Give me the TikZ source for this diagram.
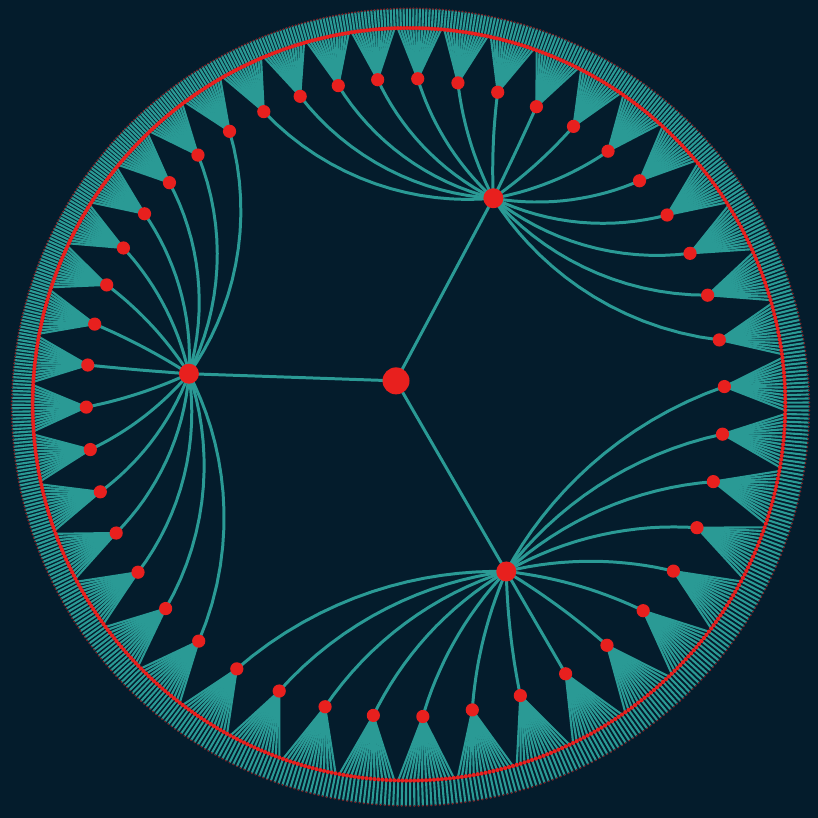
\documentclass[tikz,border=0pt]{standalone}
\usepackage{xcolor}
\usepackage{tikz}
\definecolor{DeepNavy}{HTML}{041C2C}
\definecolor{TreeTeal}{HTML}{2A9A95}
\definecolor{NodeRed}{HTML}{E8201E}

% disk shift z -> (z+b)/(1+conj(b)z), result in \mobX, \mobY
\newcommand\mobius[4]{%
  \pgfmathsetmacro\mNx{(#3)+(#1)}%
  \pgfmathsetmacro\mNy{(#4)+(#2)}%
  \pgfmathsetmacro\mDx{1+(#1)*(#3)+(#2)*(#4)}%
  \pgfmathsetmacro\mDy{(#1)*(#4)-(#2)*(#3)}%
  \pgfmathsetmacro\mDD{(\mDx)*(\mDx)+(\mDy)*(\mDy)}%
  \pgfmathsetmacro\mobX{((\mNx)*(\mDx)+(\mNy)*(\mDy))/(\mDD)}%
  \pgfmathsetmacro\mobY{((\mNy)*(\mDx)-(\mNx)*(\mDy))/(\mDD)}%
  \global\let\mobX\mobX\global\let\mobY\mobY}
\def\shiftx{-0.037}
\def\shifty{0.067}

\begin{document}
\begin{tikzpicture}[x=4.05cm, y=4.05cm,
    edge/.style={TreeTeal, line width=0.85pt},
    fan/.style={TreeTeal, line width=0.6pt}]
  \fill[DeepNavy] (-4.11cm,-4.10cm) rectangle (4.07cm,4.08cm);

  % root
  \mobius{\shiftx}{\shifty}{0}{0}
  \coordinate (root) at (\mobX,\mobY);

  % three branches
  \foreach \cn in {0,1,2}{
    \pgfmathsetmacro\tc{60+120*\cn}
    \mobius{\shiftx}{\shifty}{0.525*cos(\tc)}{0.525*sin(\tc)}
    \coordinate (c\cn) at (\mobX,\mobY);
    \let\cX\mobX \let\cY\mobY
    \pgfmathsetmacro\ncX{0-(\cX)}
    \pgfmathsetmacro\ncY{0-(\cY)}
    \foreach \gn in {0,...,14}{
      \pgfmathsetmacro\tg{\tc+8*(\gn-7)}
      \mobius{\shiftx}{\shifty}{0.79*cos(\tg)}{0.79*sin(\tg)}
      \coordinate (g\cn-\gn) at (\mobX,\mobY);
      \let\gX\mobX \let\gY\mobY
      % leaves
      \foreach \fn in {0,...,14}{
        \pgfmathsetmacro\tf{\tg+8/15*(\fn-7)}
        \mobius{\shiftx}{\shifty}{0.93*cos(\tf)}{0.93*sin(\tf)}
        \coordinate (f\cn-\gn-\fn) at (\mobX,\mobY);
        \mobius{\shiftx}{\shifty}{0.985*cos(\tf)}{0.985*sin(\tf)}
        \coordinate (e\cn-\gn-\fn) at (\mobX,\mobY);
        \draw[fan] (g\cn-\gn) -- (f\cn-\gn-\fn) -- (e\cn-\gn-\fn);
      }
      % geodesic child -> grandchild
      \mobius{\ncX}{\ncY}{\gX}{\gY}
      \let\hX\mobX \let\hY\mobY
      \gdef\geo{}
      \foreach \sn in {1,...,15}{
        \mobius{\cX}{\cY}{\sn/16*(\hX)}{\sn/16*(\hY)}
        \xdef\geo{\geo -- (\mobX,\mobY)}
      }
      \draw[edge] (c\cn) \geo -- (g\cn-\gn);
    }
    \draw[edge] (root) -- (c\cn);
  }

  % dots
  \foreach \cn in {0,1,2}{
    \foreach \gn in {0,...,14}{
      \foreach \fn in {0,...,14}{
        \fill[NodeRed] (f\cn-\gn-\fn) circle (0.021cm);
        \fill[NodeRed!55!DeepNavy] (e\cn-\gn-\fn) circle (0.01cm);
      }
      \fill[NodeRed] (g\cn-\gn) circle (0.066cm);
    }
    \fill[NodeRed] (c\cn) circle (0.1cm);
  }
  \fill[NodeRed] (root) circle (0.135cm);
\end{tikzpicture}
\end{document}
